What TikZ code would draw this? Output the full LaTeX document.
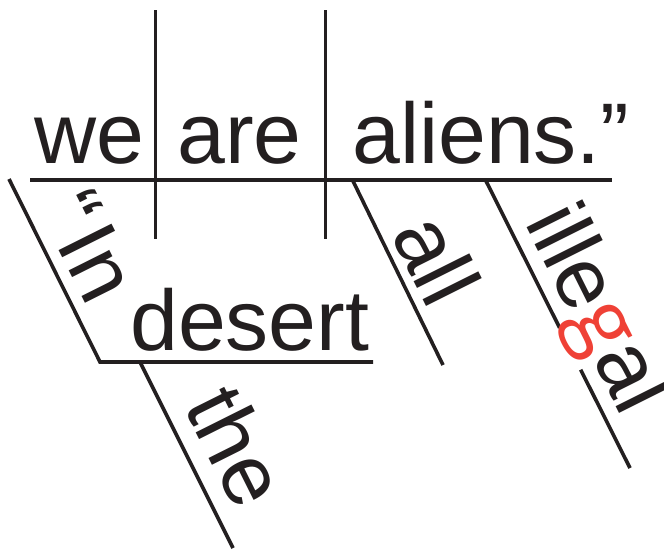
\documentclass[tikz,border=0pt]{standalone}
\usepackage{fontspec}
\setmainfont{Liberation Sans}
\newfontfamily\gface{Open Sans}
\usetikzlibrary{calc}
\definecolor{Ink}{RGB}{35,31,32}
\definecolor{Accent}{RGB}{239,65,54}
\newcommand\wordfont{\fontsize{86pt}{86pt}\selectfont}

\begin{document}
\begin{tikzpicture}[
  x=1pt, y=-1pt,
  rule/.style={Ink, line width=3.6pt},
  word/.style={inner sep=0pt, anchor=base west, font=\wordfont, text=Ink},
  slant/.style={word, rotate=-63.43}
]
\useasboundingbox (0,0) rectangle (664,549);

% base lines
\coordinate (main w) at (30,180);
\coordinate (main e) at (612,180);
\coordinate (subj n) at (155.5,10);
\coordinate (subj s) at (155.5,239);
\coordinate (verb n) at (325.5,10);
\coordinate (verb s) at (325.5,239);
\coordinate (in top) at (9,179);
\coordinate (in bot) at (100,362);
\coordinate (desert e) at (373,362);
\coordinate (the top) at (140,362);
\coordinate (the bot) at (233,548);
\coordinate (all top) at (352,179);
\coordinate (all bot) at (443,365);
\coordinate (ill top) at (485,179);
\coordinate (ill bot) at (630,468);

\draw[rule] (main w) -- (main e);
\draw[rule] (subj n) -- (subj s);
\draw[rule] (verb n) -- (verb s);
\draw[rule] (in top) -- (in bot) -- (desert e);
\draw[rule] (the top) -- (the bot);
\draw[rule] (all top) -- (all bot);
\draw[rule] (ill top) -- ($(ill top)!0.515!(ill bot)$);
\draw[rule] ($(ill top)!0.66!(ill bot)$) -- (ill bot);

% words
\node[word] (we) at (34,163) {we};
\node[word] (are) at (177,163) {are};
\node[word] (aliens) at (352,163) {aliens.”};
\node[word] (desert) at (130,350) {desert};
\node[slant] (in) at (39,210) {“\kern9pt In};
\node[slant] (the) at (183,406) {the};
\node[slant] (all) at (390,234) {all};
\node[slant] (illegal) at (524,222) {ille{\gface\color{Accent}g}al};
\end{tikzpicture}
\end{document}
